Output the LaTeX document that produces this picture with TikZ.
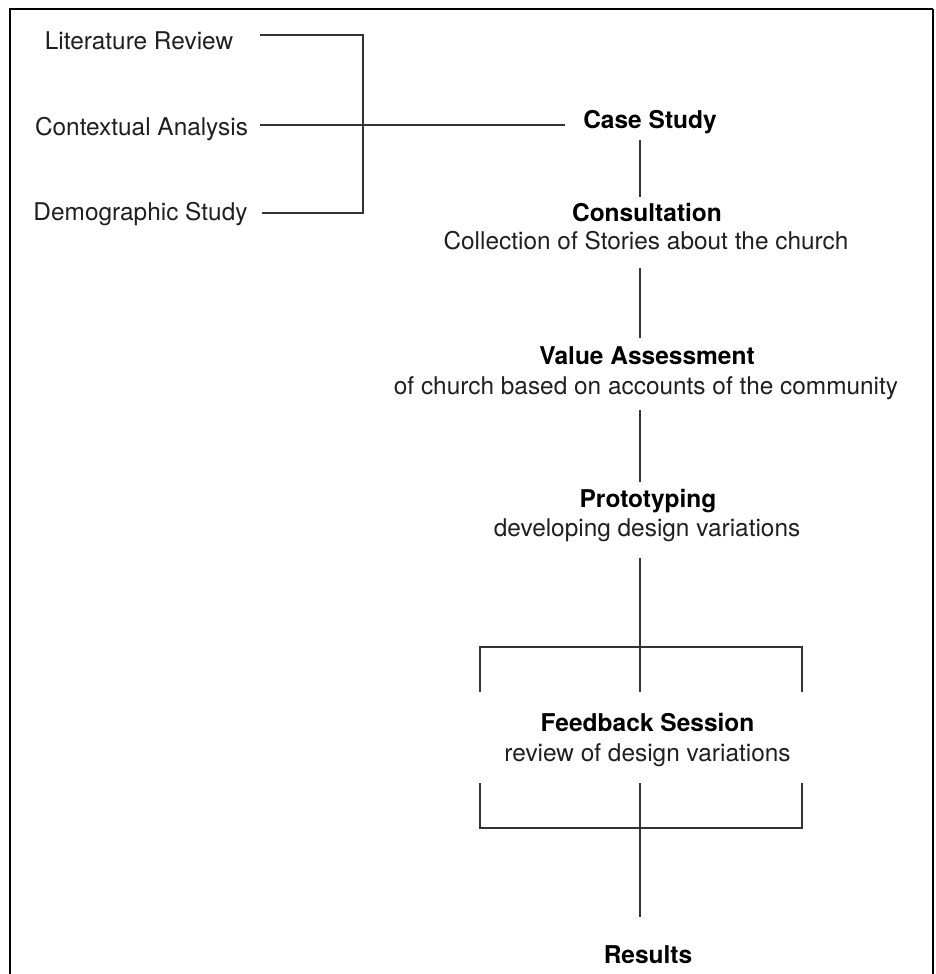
\documentclass[tikz,border=0pt]{standalone}
\usepackage{fontspec}
\setmainfont{TeX Gyre Heros}
\begin{document}
\begin{tikzpicture}[x=1pt,y=-1pt,
  reg/.style={font=\fontsize{24.4}{29}\selectfont, text=black!88, inner sep=0pt, anchor=base},
  bld/.style={font=\fontsize{24.5}{29}\selectfont\bfseries, text=black, inner sep=0pt, anchor=base},
  conn/.style={line width=1.5pt, draw=black!80},
  frame/.style={line width=2.8pt, draw=black}]
\useasboundingbox (0,0) rectangle (936,974);
\draw[frame] (10,976) -- (10,9) -- (933,9);
\draw[line width=1.8pt] (933,9) -- (933,976);

% left inputs
\node[reg] (lit)  at (139,50)  {Literature Review};
\node[reg] (ctx)  at (141.5,135) {Contextual Analysis};
\node[reg] (demo) at (140.5,220) {Demographic Study};

% main column
\node[bld] (case)   at (650,128) {Case Study};
\node[bld] (cons)   at (647,221) {Consultation};
\node[reg] (consS)  at (646,249) {Collection of Stories about the church};
\node[bld] (val)    at (647,364) {Value Assessment};
\node[reg] (valS)   at (646,394) {of church based on accounts of the community};
\node[bld] (proto)  at (648,507) {Prototyping};
\node[reg] (protoS) at (647,536) {developing design variations};
\node[bld] (fb)     at (647.5,731) {Feedback Session};
\node[reg] (fbS)    at (647.5,761) {review of design variations};
\node[bld] (res)    at (648,963) {Results};

% connector points
\coordinate (litE)  at (260,35);
\coordinate (demoE) at (262,213);
\coordinate (jTop)  at (363,35);
\coordinate (jBot)  at (363,213);
\coordinate (ctxE)  at (260,125);
\coordinate (caseW) at (565,125);
\coordinate (caseS) at (640,140);
\coordinate (consN) at (640,197);
\coordinate (consS2) at (640,268);
\coordinate (valN)  at (640,338);
\coordinate (valS2) at (640,410);
\coordinate (protoN) at (640,482);
\coordinate (protoS2) at (640,558);
\coordinate (bTL) at (480,647);
\coordinate (bTR) at (802,647);
\coordinate (bTLd) at (480,692);
\coordinate (bTRd) at (802,692);
\coordinate (bTM) at (640,692);
\coordinate (bBL) at (480,828);
\coordinate (bBR) at (802,828);
\coordinate (bBLu) at (480,783);
\coordinate (bBRu) at (802,783);
\coordinate (bBM) at (640,783);
\coordinate (resN) at (640,917);

\draw[conn] (litE) -- (jTop) -- (jBot) -- (demoE);
\draw[conn] (ctxE) -- (caseW);
\draw[conn] (caseS) -- (consN);
\draw[conn] (consS2) -- (valN);
\draw[conn] (valS2) -- (protoN);
\draw[conn] (protoS2) -- (bTM);
\draw[conn] (bTLd) -- (bTL) -- (bTR) -- (bTRd);
\draw[conn] (bBLu) -- (bBL) -- (bBR) -- (bBRu);
\draw[conn] (bBM) -- (resN);
\end{tikzpicture}
\end{document}
